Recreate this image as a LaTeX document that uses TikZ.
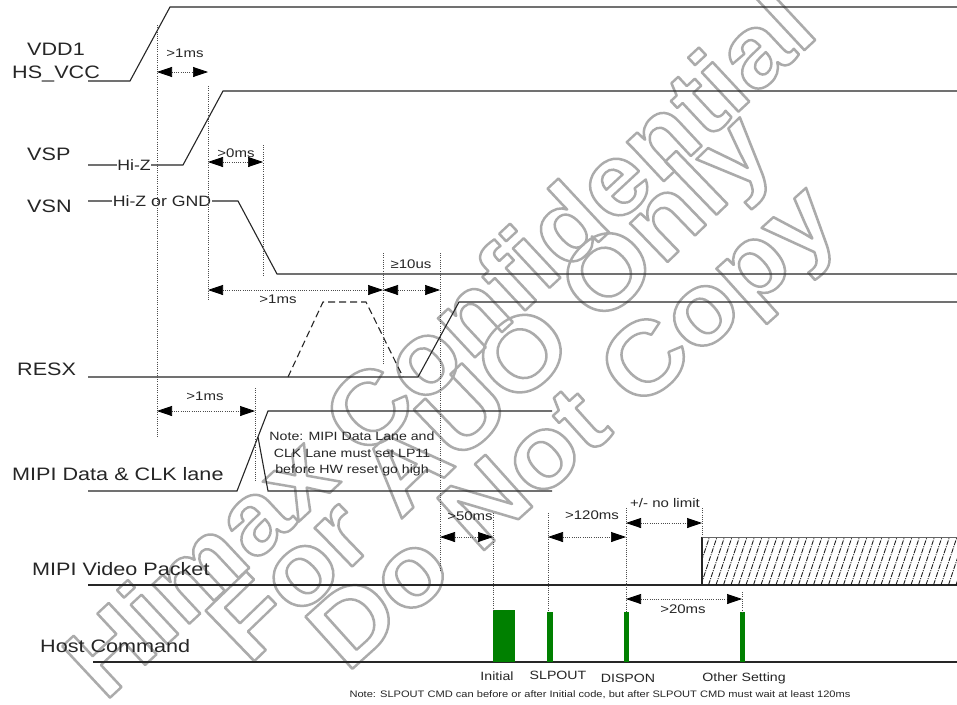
\documentclass[tikz,border=0pt]{standalone}
\usepackage{fontspec}
\setmainfont{Liberation Sans}
\usetikzlibrary{arrows.meta}
\newcommand\wmtext[1]{\special{pdf:literal direct 1 Tr 2.4 w 1 j}#1\special{pdf:literal direct 0 Tr}}
\tikzset{
  sig/.style={line width=1.1pt, draw=black!85},
  vdot/.style={line width=0.6pt, draw=black!70, dash pattern=on 1pt off 1.2pt},
  dim/.style={line width=0.7pt, draw=black!70, dash pattern=on 1pt off 1.2pt,
    {Triangle[length=15pt,width=10pt,black]}-{Triangle[length=15pt,width=10pt,black]}},
  biglab/.style={font=\fontsize{18}{20}\selectfont, xscale=1.2, inner sep=0pt, anchor=base west, text=black!85},
  smlab/.style={font=\fontsize{12.5}{14}\selectfont, xscale=1.2, inner sep=0pt, anchor=base, text=black!85},
  hiz/.style={font=\fontsize{15}{17}\selectfont, xscale=1.18, inner sep=0.6pt, fill=white, text=black!85},
  cmdlab/.style={font=\fontsize{12}{14}\selectfont, xscale=1.18, inner sep=0pt, anchor=base, text=black!85},
  bar/.style={fill=green!50!black, draw=none},
  hatch/.style={line width=0.9pt, draw=black!90, dash pattern=on 5pt off 1.2pt on 1pt off 1.2pt},
  wm/.style={font=\fontsize{102}{102}\bfseries\selectfont, text=black!33, inner sep=0pt}
}
\begin{document}
\begin{tikzpicture}[x=1pt,y=-1pt]
\useasboundingbox (0,0) rectangle (957,704);
\fill[white] (0,0) rectangle (957,704);
% watermark
\node[wm, rotate=43, xscale=1.06] (wm1) at (438,342) {\wmtext{Himax Confidential}};
\node[wm, rotate=44, xscale=1.09] (wm2) at (495,392) {\wmtext{For AUO Only}};
\node[wm, rotate=42, xscale=1.08] (wm3) at (578,432) {\wmtext{Do Not Copy}};

% signal labels
\node[biglab] (lvdd) at (27,55) {VDD1};
\node[biglab] (lhs) at (12,78) {HS\_VCC};
\node[biglab] (lvsp) at (27,160) {VSP};
\node[biglab] (lvsn) at (27,212) {VSN};
\node[biglab] (lresx) at (17,375) {RESX};
\node[biglab] (lmipi) at (12,480) {MIPI Data \& CLK lane};
\node[biglab] (lvid) at (32,575) {MIPI Video Packet};
\node[biglab] (lhost) at (40,652) {Host Command};

% waveforms
\draw[sig] (88,81) -- (130,81) -- (170,7) -- (957,7);
\draw[sig] (88,165) -- (183,165) -- (223,91) -- (957,91);
\node[hiz] (hiz1) at (134,165) {Hi-Z};
\draw[sig] (88,201) -- (238,201) -- (277,274) -- (957,274);
\node[hiz] (hiz2) at (162,201) {Hi-Z or GND};
\draw[sig] (88,377) -- (418,377) -- (459,302) -- (957,302);
\draw[sig, dash pattern=on 7pt off 4pt] (288,377) -- (323,302) -- (366,302) -- (403,377);
\draw[sig] (88,491) -- (237,491) -- (268,411) -- (552,411);
\draw[sig] (258,437) -- (268,491) -- (552,491);
\node[font=\fontsize{12}{16.5}\selectfont, xscale=1.18, align=center, inner sep=0pt, anchor=north, text=black!85] (note) at (352,432) {Note: MIPI Data Lane and\\CLK Lane must set LP11\\before HW reset go high};
\draw[sig] (88,585) -- (957,585);
\draw[sig] (93,662) -- (957,662);

% hatched video packet
\begin{scope}
\clip (702,537) rectangle (957,585);
\foreach \i in {0,...,37} \draw[hatch] ({686+\i*7.5},585) -- ++(16,-48);
\end{scope}
\draw[sig] (702,585) -- (702,537);
\draw[line width=0.8pt, draw=black!60] (702,537) -- (957,537);

% command bars
\fill[bar] (493,610) rectangle (515,662);
\fill[bar] (547,612) rectangle (553,662);
\fill[bar] (624,612) rectangle (629,662);
\fill[bar] (740,612) rectangle (745,662);

% dotted verticals with named ends
\foreach \n/\x/\a/\b in {v1/157/25/437, v2/208/86/300, v3/263/145/275, v4/383/253/365, v5/440/253/570, v6/255/388/482, v7/493/513/610, v8/548/513/612, v9/626/508/612, v10/702/508/537, v11/742/592/612}{
  \coordinate (\n t) at (\x,\a);
  \coordinate (\n b) at (\x,\b);
  \draw[vdot] (\n t) -- (\n b);
}

% dimension arrows
\coordinate (a1l) at (157,72); \coordinate (a1r) at (208,72);
\coordinate (a2l) at (208,162); \coordinate (a2r) at (263,162);
\coordinate (a3l) at (208,290); \coordinate (a3r) at (383,290);
\coordinate (a4l) at (383,290); \coordinate (a4r) at (440,290);
\coordinate (a5l) at (157,411); \coordinate (a5r) at (255,411);
\coordinate (a6l) at (440,537); \coordinate (a6r) at (493,537);
\coordinate (a7l) at (548,537); \coordinate (a7r) at (626,537);
\coordinate (a8l) at (626,523); \coordinate (a8r) at (702,523);
\coordinate (a9l) at (626,599); \coordinate (a9r) at (742,599);
\draw[dim] (a1l) -- (a1r);
\draw[dim] (a2l) -- (a2r);
\draw[dim] (a3l) -- (a3r);
\draw[dim] (a4l) -- (a4r);
\draw[dim] (a5l) -- (a5r);
\draw[dim] (a6l) -- (a6r);
\draw[dim] (a7l) -- (a7r);
\draw[dim] (a8l) -- (a8r);
\draw[dim] (a9l) -- (a9r);

% dimension labels
\node[smlab] (d1) at (185,57) {>1ms};
\node[smlab] (d2) at (236,157) {>0ms};
\node[smlab] (d3) at (278,303) {>1ms};
\node[smlab] (d4) at (411,268) {≥10us};
\node[smlab] (d5) at (205,400) {>1ms};
\node[smlab] (d6) at (470,520) {>50ms};
\node[smlab] (d7) at (592,519) {>120ms};
\node[smlab] (d8) at (665,507) {+/- no limit};
\node[smlab] (d9) at (683,613) {>20ms};

% command labels
\node[cmdlab] (c1) at (497,680) {Initial};
\node[cmdlab] (c2) at (558,679) {SLPOUT};
\node[cmdlab] (c3) at (628,682) {DISPON};
\node[cmdlab] (c4) at (744,681) {Other Setting};
\node[font=\fontsize{9.4}{11}\selectfont, xscale=1.18, inner sep=0pt, anchor=base, text=black!85] (bnote) at (600,697) {Note: SLPOUT CMD can before or after Initial code, but after SLPOUT CMD must wait at least 120ms};
\end{tikzpicture}
\end{document}
